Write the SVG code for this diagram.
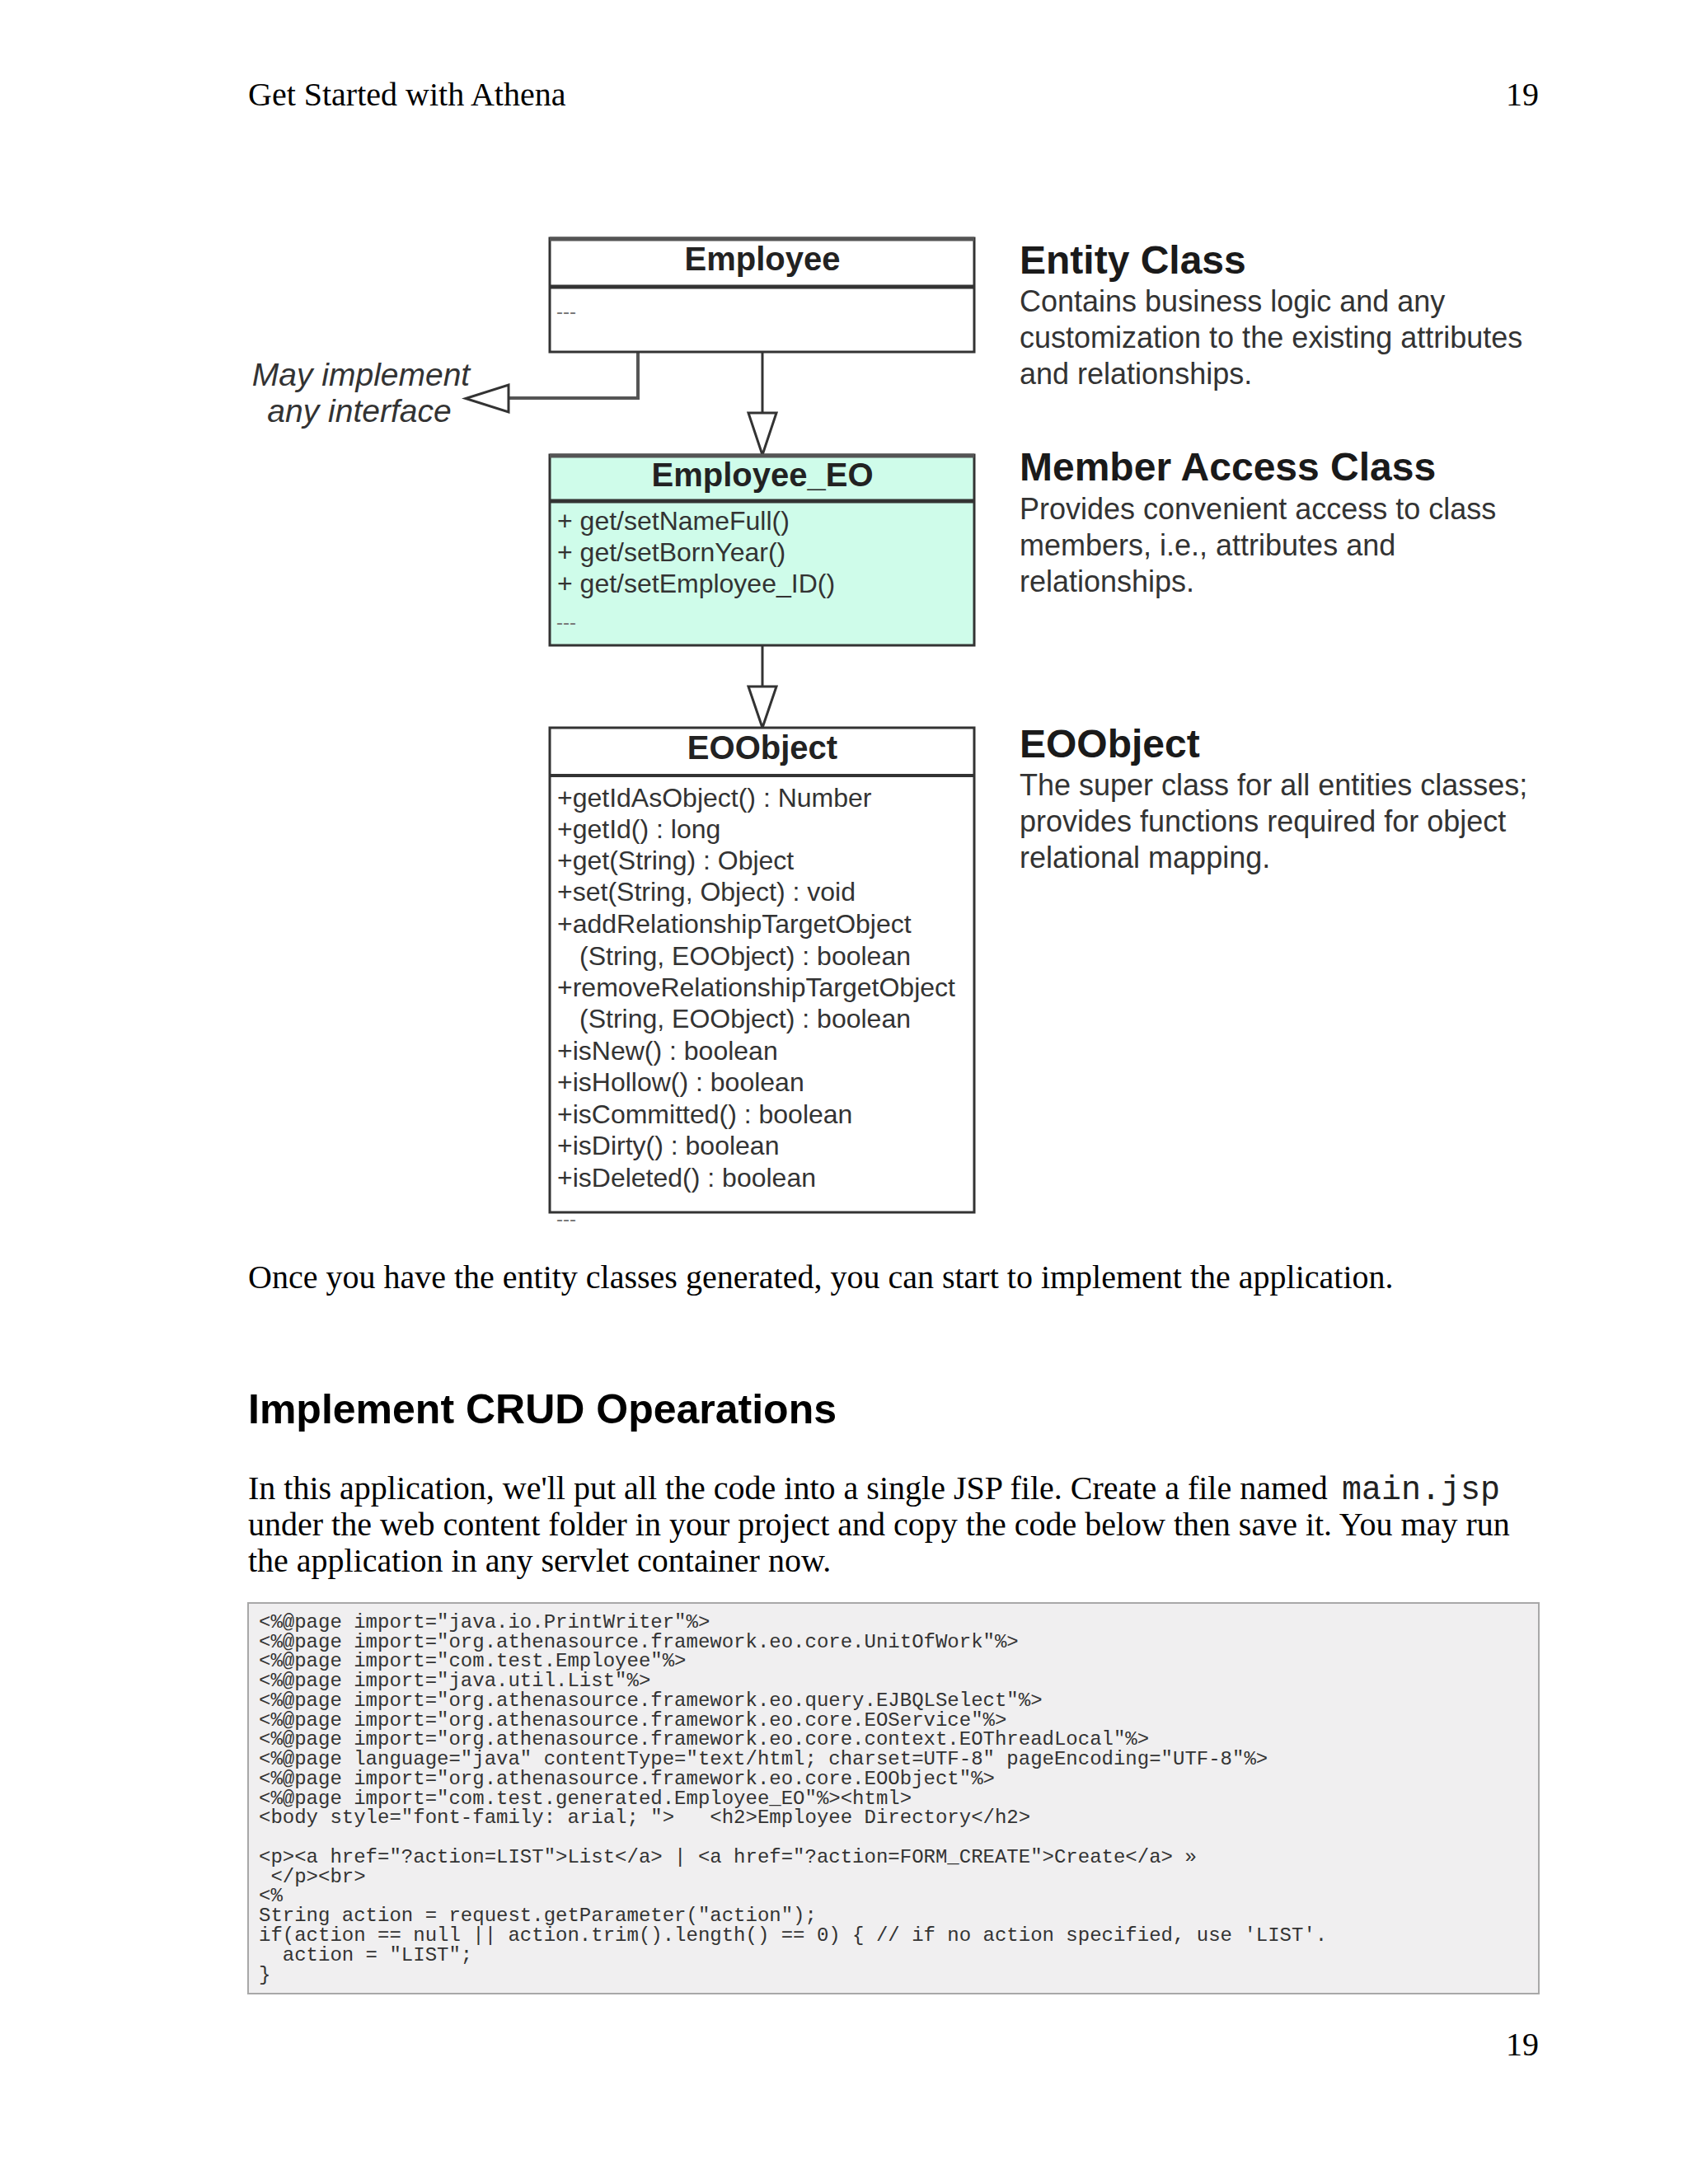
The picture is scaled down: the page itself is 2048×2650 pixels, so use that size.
<svg xmlns="http://www.w3.org/2000/svg" width="2048" height="2650" viewBox="0 0 2048 2650">
<style>
.serif{font-family:"Liberation Serif","Times New Roman",serif;font-size:40px;fill:#000}
.mono40{font-family:"Liberation Mono","Courier New",monospace;font-size:40px;fill:#222}
.h2{font-family:"Liberation Sans",Arial,sans-serif;font-size:50px;font-weight:bold;fill:#000}
.code{font-family:"Liberation Mono","Courier New",monospace;font-size:24px;fill:#333;white-space:pre}
.title{font-family:"Liberation Sans",Arial,sans-serif;font-size:40px;font-weight:bold;fill:#222;text-anchor:middle}
.member{font-family:"Liberation Sans",Arial,sans-serif;font-size:32px;fill:#333}
.dots{font-family:"Liberation Sans",Arial,sans-serif;font-size:24px;fill:#777}
.head{font-family:"Liberation Sans",Arial,sans-serif;font-size:48px;font-weight:bold;fill:#1a1a1a}
.desc{font-family:"Liberation Sans",Arial,sans-serif;font-size:36px;fill:#333}
.note{font-family:"Liberation Sans",Arial,sans-serif;font-size:39px;font-style:italic;fill:#333;text-anchor:middle}
.box{stroke:#333;stroke-width:3}
.topb{stroke:#555;stroke-width:5}
.sep{stroke:#333;stroke-width:5}
.conn{stroke:#333;stroke-width:3;fill:none}
.iconn{stroke:#555;stroke-width:4;fill:none}
.tri{fill:#fff;stroke:#333;stroke-width:3;stroke-linejoin:miter}
</style>

<g id="page-header">
<text class="serif" x="301" y="128">Get Started with Athena</text>
<text class="serif" x="1867" y="128" text-anchor="end">19</text>
</g>

<g id="connectors">
<line class="conn" x1="925" y1="427" x2="925" y2="501"/>
<polygon class="tri" points="908,501 942,501 925,552"/>
<line class="conn" x1="925" y1="783" x2="925" y2="833"/>
<polygon class="tri" points="908,833 942,833 925,883"/>
<polyline class="iconn" points="774,427 774,483 617,483"/>
<polygon class="tri" points="617,467 617,500 565,483.5"/>
</g>

<g id="node-employee">
<rect class="box" x="667" y="289" width="515" height="138" fill="#fff"/>
<line class="topb" x1="667" y1="290" x2="1182" y2="290"/>
<line class="sep" x1="667" y1="348" x2="1182" y2="348"/>
<text class="title" x="925" y="328">Employee</text>
<text class="dots" x="675" y="386">---</text>
</g>

<g id="node-employee-eo">
<rect class="box" x="667" y="552" width="515" height="231" fill="#cffcea"/>
<line class="topb" x1="667" y1="553" x2="1182" y2="553"/>
<line class="sep" x1="667" y1="608" x2="1182" y2="608"/>
<text class="title" x="925" y="590">Employee_EO</text>
<text class="member" x="676" y="643">+ get/setNameFull()</text>
<text class="member" x="676" y="681">+ get/setBornYear()</text>
<text class="member" x="676" y="719">+ get/setEmployee_ID()</text>
<text class="dots" x="675" y="763">---</text>
</g>

<g id="node-eoobject">
<rect class="box" x="667" y="883" width="515" height="588" fill="#fff"/>
<line class="sep" x1="667" y1="941" x2="1182" y2="941" style="stroke-width:4"/>
<text class="title" x="925" y="921">EOObject</text>
<text class="member" x="676" y="979">+getIdAsObject() : Number</text>
<text class="member" x="676" y="1017">+getId() : long</text>
<text class="member" x="676" y="1055">+get(String) : Object</text>
<text class="member" x="676" y="1093">+set(String, Object) : void</text>
<text class="member" x="676" y="1132">+addRelationshipTargetObject</text>
<text class="member" x="703" y="1171">(String, EOObject) : boolean</text>
<text class="member" x="676" y="1209">+removeRelationshipTargetObject</text>
<text class="member" x="703" y="1247">(String, EOObject) : boolean</text>
<text class="member" x="676" y="1286">+isNew() : boolean</text>
<text class="member" x="676" y="1324">+isHollow() : boolean</text>
<text class="member" x="676" y="1363">+isCommitted() : boolean</text>
<text class="member" x="676" y="1401">+isDirty() : boolean</text>
<text class="member" x="676" y="1440">+isDeleted() : boolean</text>
<text class="dots" x="675" y="1487">---</text>
</g>

<g id="note-interface">
<text class="note" x="438" y="468">May implement</text>
<text class="note" x="436" y="512">any interface</text>
</g>

<g id="legend-entity">
<text class="head" x="1237" y="332">Entity Class</text>
<text class="desc" x="1237" y="378">Contains business logic and any</text>
<text class="desc" x="1237" y="422">customization to the existing attributes</text>
<text class="desc" x="1237" y="466">and relationships.</text>
</g>

<g id="legend-member">
<text class="head" x="1237" y="583">Member Access Class</text>
<text class="desc" x="1237" y="630">Provides convenient access to class</text>
<text class="desc" x="1237" y="674">members, i.e., attributes and</text>
<text class="desc" x="1237" y="718">relationships.</text>
</g>

<g id="legend-eoobject">
<text class="head" x="1237" y="919">EOObject</text>
<text class="desc" x="1237" y="965">The super class for all entities classes;</text>
<text class="desc" x="1237" y="1009">provides functions required for object</text>
<text class="desc" x="1237" y="1053">relational mapping.</text>
</g>

<g id="body-text">
<text class="serif" x="301" y="1563">Once you have the entity classes generated, you can start to implement the application.</text>
<text class="h2" x="301" y="1727">Implement CRUD Opearations</text>
<text class="serif" x="301" y="1819">In this application, we'll put all the code into a single JSP file. Create a file named</text>
<text class="mono40" x="1628" y="1819">main.jsp</text>
<text class="serif" x="301" y="1863">under the web content folder in your project and copy the code below then save it. You may run</text>
<text class="serif" x="301" y="1907">the application in any servlet container now.</text>
</g>

<g id="code-block">
<rect x="301" y="1945" width="1566" height="474" fill="#f0eff0" stroke="#a8a8a8" stroke-width="2"/>
<text class="code" x="314" y="1975">&lt;%@page import="java.io.PrintWriter"%&gt;</text>
<text class="code" x="314" y="1999">&lt;%@page import="org.athenasource.framework.eo.core.UnitOfWork"%&gt;</text>
<text class="code" x="314" y="2022">&lt;%@page import="com.test.Employee"%&gt;</text>
<text class="code" x="314" y="2046">&lt;%@page import="java.util.List"%&gt;</text>
<text class="code" x="314" y="2070">&lt;%@page import="org.athenasource.framework.eo.query.EJBQLSelect"%&gt;</text>
<text class="code" x="314" y="2094">&lt;%@page import="org.athenasource.framework.eo.core.EOService"%&gt;</text>
<text class="code" x="314" y="2117">&lt;%@page import="org.athenasource.framework.eo.core.context.EOThreadLocal"%&gt;</text>
<text class="code" x="314" y="2141">&lt;%@page language="java" contentType="text/html; charset=UTF-8" pageEncoding="UTF-8"%&gt;</text>
<text class="code" x="314" y="2165">&lt;%@page import="org.athenasource.framework.eo.core.EOObject"%&gt;</text>
<text class="code" x="314" y="2189">&lt;%@page import="com.test.generated.Employee_EO"%&gt;&lt;html&gt;</text>
<text class="code" x="314" y="2212">&lt;body style="font-family: arial; "&gt;   &lt;h2&gt;Employee Directory&lt;/h2&gt;</text>
<text class="code" x="314" y="2260">&lt;p&gt;&lt;a href="?action=LIST"&gt;List&lt;/a&gt; | &lt;a href="?action=FORM_CREATE"&gt;Create&lt;/a&gt; »</text>
<text class="code" x="314" y="2284"> &lt;/p&gt;&lt;br&gt;</text>
<text class="code" x="314" y="2307">&lt;%</text>
<text class="code" x="314" y="2331">String action = request.getParameter("action");</text>
<text class="code" x="314" y="2355">if(action == null || action.trim().length() == 0) { // if no action specified, use 'LIST'.</text>
<text class="code" x="314" y="2379">  action = "LIST";</text>
<text class="code" x="314" y="2403">}</text>
</g>

<g id="page-footer">
<text class="serif" x="1867" y="2494" text-anchor="end">19</text>
</g>
</svg>
